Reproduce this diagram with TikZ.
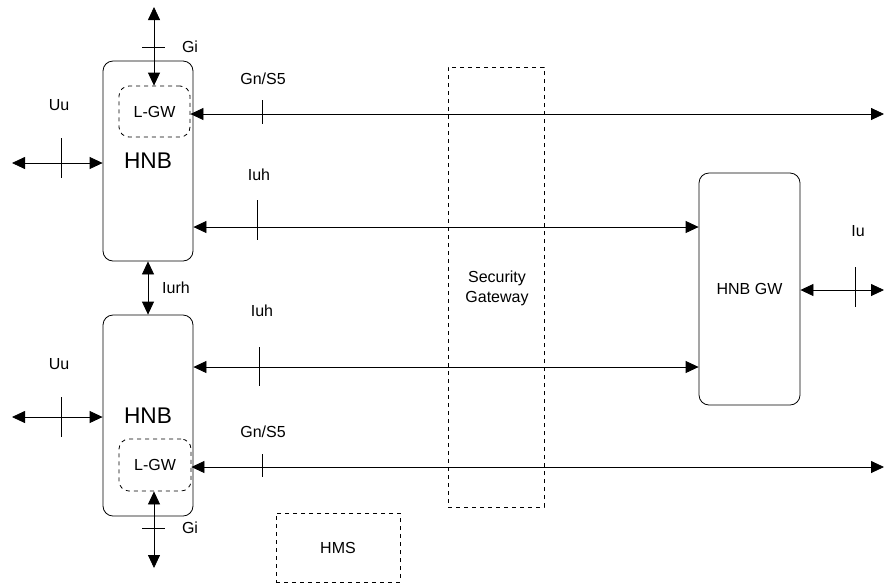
\documentclass[tikz,border=0pt]{standalone}
\usepackage{fontspec}
\setmainfont{Liberation Sans}
\usepackage{tikz}
\usetikzlibrary{arrows.meta}

\tikzset{
  box/.style = {draw, rounded corners = 7.5pt, inner sep = 0pt, line width = 0.6pt},
  dashbox/.style = {draw, dashed, inner sep = 0pt, line width = 0.6pt},
  link/.style = {{Triangle[length=9.75pt, width=9pt]}-{Triangle[length=9.75pt, width=9pt]}, line width = 0.6pt},
  tick/.style = {line width = 0.6pt},
  lbl/.style = {font = \fontsize{12}{14}\selectfont, inner sep = 0pt}
}

\begin{document}
\begin{tikzpicture}[x = 0.75pt, y = -0.75pt]
      \useasboundingbox (0,0) rectangle (884,583);

      % boxes
      \node[box, minimum width = 67.5pt, minimum height = 150pt, font = \fontsize{17}{20}\selectfont] (hnbA) at (148,161) {HNB};
      \node[dashbox, rounded corners = 7.5pt, minimum width = 53.25pt, minimum height = 38.25pt, lbl] (lgwA) at (154.5,111.5) {L-GW};
      \node[box, minimum width = 67.5pt, minimum height = 150.75pt, font = \fontsize{17}{20}\selectfont] (hnbB) at (148,415.5) {HNB};
      \node[dashbox, rounded corners = 7.5pt, minimum width = 54pt, minimum height = 39pt, lbl] (lgwB) at (155,465) {L-GW};
      \node[box, minimum width = 75.75pt, minimum height = 174pt, lbl] (hnbgw) at (749.5,289) {HNB GW};
      \node[dashbox, minimum width = 72pt, minimum height = 330pt] (segw) at (496,287) {};
      \node[align = center, font = \fontsize{12}{15}\selectfont] (segwtext) at (497,288) {Security\\Gateway};
      \node[dashbox, minimum width = 93pt, minimum height = 51.75pt, lbl] (hms) at (338,547.5) {HMS};

      % free ends
      \coordinate (giA) at (154,7);
      \coordinate (giB) at (154,568);
      \coordinate (uuA) at (12,163);
      \coordinate (uuB) at (12,417);
      \coordinate (gnA) at (884,114);
      \coordinate (gnB) at (884,467);
      \coordinate (iu) at (884,290);

      % connectors
      \draw[link] (giA) -- (lgwA.north -| giA);
      \draw[link] (giB) -- (lgwB.south -| giB);
      \draw[link] (uuA) -- (hnbA.west |- uuA);
      \draw[link] (uuB) -- (hnbB.west |- uuB);
      \draw[link] (lgwA.east |- gnA) -- (gnA);
      \draw[link] (lgwB.east |- gnB) -- (gnB);
      \draw[link] (hnbA.east |- 0,227) -- (hnbgw.west |- 0,227);
      \draw[link] (hnbB.east |- 0,367) -- (hnbgw.west |- 0,367);
      \draw[link] (hnbA.south) -- (hnbB.north);
      \draw[link] (hnbgw.east |- iu) -- (iu);

      % ticks
      \draw[tick] (142,47) -- (165,47);
      \draw[tick] (142,528) -- (165,528);
      \draw[tick] (61,138) -- (61,178);
      \draw[tick] (61,397) -- (61,437);
      \draw[tick] (262,100) -- (262,124);
      \draw[tick] (262,454) -- (262,477);
      \draw[tick] (257,200) -- (257,240);
      \draw[tick] (259,347) -- (259,386);
      \draw[tick] (855,267) -- (855,307);

      % labels
      \node[lbl] (giAlbl) at (190,47) {Gi};
      \node[lbl] (giBlbl) at (190,528) {Gi};
      \node[lbl] (uuAlbl) at (59,105) {Uu};
      \node[lbl] (uuBlbl) at (59,364) {Uu};
      \node[lbl] (gnAlbl) at (263,79) {Gn/S5};
      \node[lbl] (gnBlbl) at (263,432) {Gn/S5};
      \node[lbl] (iuhAlbl) at (259,175) {Iuh};
      \node[lbl] (iuhBlbl) at (262,311) {Iuh};
      \node[lbl] (iurhlbl) at (176,288) {Iurh};
      \node[lbl] (iulbl) at (858,231) {Iu};
\end{tikzpicture}
\end{document}
